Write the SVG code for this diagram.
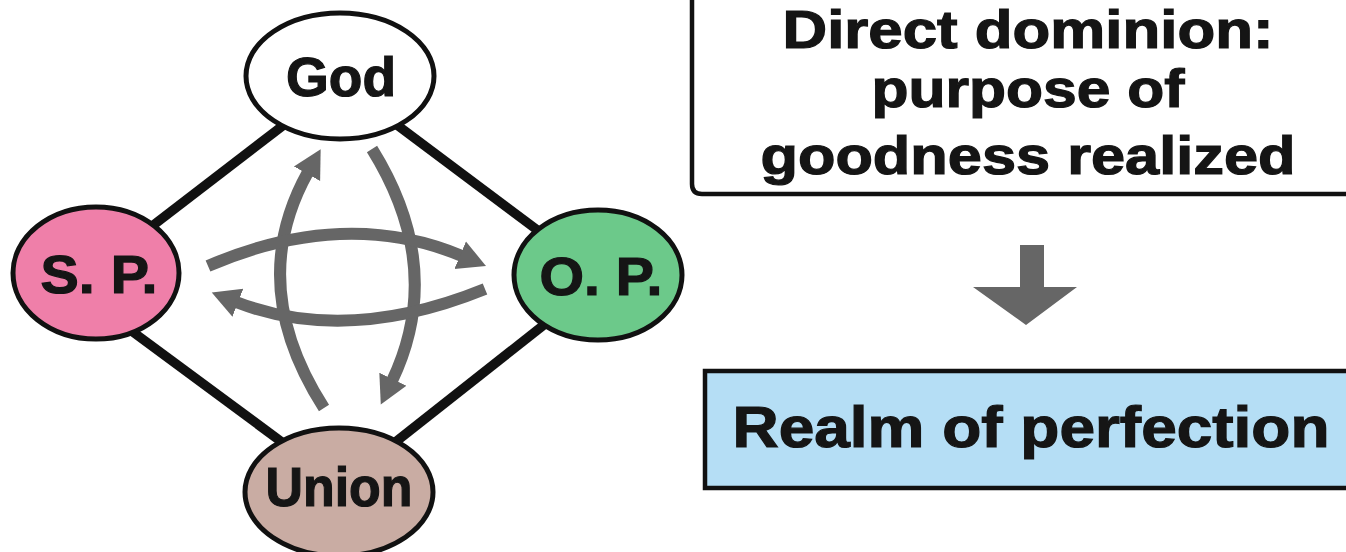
<svg xmlns="http://www.w3.org/2000/svg" width="1346" height="552" viewBox="0 0 1346 552">
<style>
.node{stroke:#111;stroke-width:5}
.lbl{font-family:"Liberation Sans",Arial,sans-serif;font-weight:700;fill:#151515;stroke:#151515;stroke-width:1.2;text-anchor:middle}
.edge{stroke:#111;stroke-width:9.5;stroke-linecap:butt;fill:none}
.flow{stroke:#666;stroke-width:12;fill:none;marker-end:url(#ah)}
</style>
<defs>
<marker id="ah" markerUnits="userSpaceOnUse" markerWidth="40" markerHeight="40" refX="2" refY="15" orient="auto" viewBox="0 0 40 30">
<path d="M0,0 L28,15 L0,30 z" fill="#666"/>
</marker>
</defs>
<rect width="1346" height="552" fill="#fff"/>
<g id="connectors">
<line class="edge" x1="134" y1="240" x2="302" y2="111"/>
<line class="edge" x1="381" y1="113" x2="560" y2="247"/>
<line class="edge" x1="114" y1="318" x2="298" y2="454"/>
<line class="edge" x1="564" y1="309" x2="379" y2="455"/>
<path class="flow" d="M324,408 Q245,285 308,172"/>
<path class="flow" d="M372,149 Q446,268 392,381"/>
<path class="flow" d="M208,266 Q345,207 462,256"/>
<path class="flow" d="M485,289 Q347,345 236,302"/>
</g>
<g id="god">
<ellipse class="node" cx="340" cy="76" rx="94" ry="63" fill="#fff"/>
<text class="lbl" x="341" y="96" font-size="56" textLength="110" lengthAdjust="spacingAndGlyphs">God</text>
</g>
<g id="sp">
<ellipse class="node" cx="96" cy="273" rx="83" ry="66" fill="#ef7fa9"/>
<text class="lbl" x="99" y="293" font-size="54" textLength="117" lengthAdjust="spacingAndGlyphs">S. P.</text>
</g>
<g id="op">
<ellipse class="node" cx="598" cy="275" rx="84" ry="65" fill="#6cc98a"/>
<text class="lbl" x="601" y="295" font-size="54" textLength="123" lengthAdjust="spacingAndGlyphs">O. P.</text>
</g>
<g id="union">
<ellipse class="node" cx="339" cy="492" rx="94" ry="64" fill="#c9aca3"/>
<text class="lbl" x="339" y="506" font-size="56" textLength="147" lengthAdjust="spacingAndGlyphs">Union</text>
</g>
<g id="dominion">
<path d="M1350,194 L702,194 Q692,194 692,184 L692,-10" fill="#fff" stroke="#111" stroke-width="4.5"/>
<text class="lbl" x="1028" y="48" font-size="53" textLength="491" lengthAdjust="spacingAndGlyphs">Direct dominion:</text>
<text class="lbl" x="1028" y="107" font-size="54" textLength="313" lengthAdjust="spacingAndGlyphs">purpose of</text>
<text class="lbl" x="1028" y="174" font-size="54" textLength="535" lengthAdjust="spacingAndGlyphs">goodness realized</text>
</g>
<g id="down-arrow">
<path d="M1020,245 L1044,245 L1044,287 L1077,287 L1026,325 L973,287 L1020,287 z" fill="#666"/>
</g>
<g id="realm">
<rect x="705" y="371" width="648" height="117" fill="#b5def5" stroke="#111" stroke-width="4.5"/>
<text class="lbl" x="1031" y="447" font-size="57" textLength="597" lengthAdjust="spacingAndGlyphs">Realm of perfection</text>
</g>
</svg>
